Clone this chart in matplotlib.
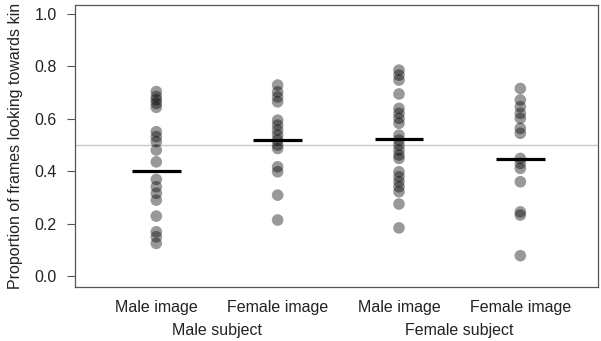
import matplotlib
matplotlib.use("Agg")
import matplotlib.pyplot as plt

plt.rcParams['font.family'] = ['Liberation Sans', 'DejaVu Sans']

categories = ["Male image", "Female image", "Male image", "Female image"]
groups = ["Male subject", "Female subject"]

male_subj_male_img = [0.704, 0.685, 0.672, 0.659, 0.644, 0.551, 0.532, 0.513, 0.481, 0.436,
                      0.369, 0.341, 0.316, 0.290, 0.229, 0.169, 0.150, 0.125]
male_subj_female_img = [0.729, 0.703, 0.684, 0.665, 0.595, 0.576, 0.557, 0.538, 0.519, 0.500,
                        0.487, 0.417, 0.398, 0.309, 0.214]
female_subj_male_img = [0.786, 0.767, 0.748, 0.695, 0.640, 0.621, 0.602, 0.583, 0.538, 0.519,
                        0.500, 0.481, 0.462, 0.449, 0.398, 0.379, 0.360, 0.341, 0.322, 0.275, 0.184]
female_subj_female_img = [0.716, 0.672, 0.646, 0.621, 0.602, 0.564, 0.545, 0.449, 0.430, 0.411,
                          0.360, 0.245, 0.233, 0.078]
series = [male_subj_male_img, male_subj_female_img, female_subj_male_img, female_subj_female_img]
means = [0.402, 0.519, 0.523, 0.445]
reference_level = 0.5
yticks = [0.0, 0.2, 0.4, 0.6, 0.8, 1.0]

FS = 11.5
fig = plt.figure(figsize=(6.01, 3.41), dpi=100)
ax = fig.add_axes([0.1248, 0.158, 0.8702, 0.827])

ax.axhline(reference_level, color="#c8c8c8", lw=1, zorder=0)
for i, vals in enumerate(series, start=1):
    ax.scatter([i] * len(vals), vals, s=70, color="black", alpha=0.4, edgecolors="none", zorder=2)
    ax.plot([i - 0.2, i + 0.2], [means[i - 1]] * 2, color="black", lw=2.3, zorder=3, solid_capstyle="butt")

ax.set_xlim(0.33, 4.64)
ax.set_ylim(-0.042, 1.034)
ax.set_yticks(yticks)
ax.set_yticklabels([f"{t:.1f}" for t in yticks])
ax.set_xticks([1, 2, 3, 4])
ax.set_xticklabels(categories)
ax.tick_params(axis="x", length=0, pad=9, labelsize=FS, colors="#222222")
ax.tick_params(axis="y", length=6, width=0.8, pad=7, labelsize=FS, color="#555555", labelcolor="#222222")
for sp in ax.spines.values():
    sp.set_color("#555555")
    sp.set_linewidth(0.9)

ax.text(1.5, -0.207, groups[0], ha="center", va="center", fontsize=FS, color="#222222")
ax.text(3.5, -0.207, groups[1], ha="center", va="center", fontsize=FS, color="#222222")

ax.set_ylabel("Proportion of frames looking towards kin", fontsize=FS, color="#222222", labelpad=8)

fig.savefig("out.png", dpi=100)
